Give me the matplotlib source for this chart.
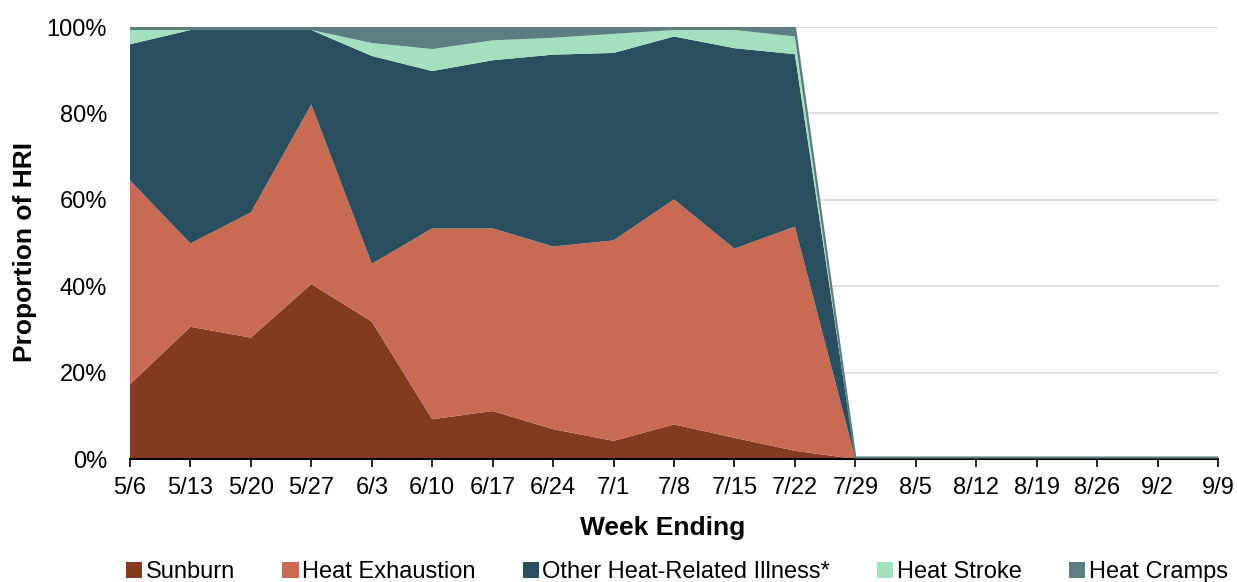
import matplotlib.pyplot as plt
import numpy as np

plt.rcParams['font.family'] = ['Liberation Sans', 'DejaVu Sans']

weeks = ['5/6', '5/13', '5/20', '5/27', '6/3', '6/10', '6/17', '6/24', '7/1', '7/8',
         '7/15', '7/22', '7/29', '8/5', '8/12', '8/19', '8/26', '9/2', '9/9']

# proportions (%), zero after 7/22
sunburn = [17.3, 30.6, 28.1, 40.5, 31.8, 9.2, 11.1, 6.9, 4.2, 8.0, 4.9, 1.9,
           0, 0, 0, 0, 0, 0, 0]
heat_exhaustion = [47.2, 19.3, 29.0, 41.6, 13.4, 44.2, 42.3, 42.3, 46.4, 52.1, 43.8, 51.9,
                   0, 0, 0, 0, 0, 0, 0]
other_hri = [31.5, 49.4, 42.2, 17.2, 48.1, 36.4, 38.9, 44.4, 43.4, 37.7, 46.4, 39.9,
             0, 0, 0, 0, 0, 0, 0]
heat_stroke = [3.3, 0, 0, 0, 3.0, 5.1, 4.6, 3.9, 4.4, 1.5, 4.2, 4.1,
               0, 0, 0, 0, 0, 0, 0]
heat_cramps = [0.7, 0.7, 0.7, 0.7, 3.7, 5.1, 3.1, 2.5, 1.6, 0.7, 0.7, 2.2,
               0, 0, 0, 0, 0, 0, 0]

labels = ['Sunburn', 'Heat Exhaustion', 'Other Heat-Related Illness*', 'Heat Stroke', 'Heat Cramps']
colors = ['#823A20', '#C96A52', '#294E5F', '#A3E1BE', '#5C7E82']

fig = plt.figure(figsize=(12.37, 5.82), dpi=100)
ax = fig.add_axes([130 / 1237, 1 - 459 / 582, 1088 / 1237, 432 / 582])

x = np.arange(len(weeks))
series = [sunburn, heat_exhaustion, other_hri, heat_stroke, heat_cramps]
ax.stackplot(x, *series, colors=colors, labels=labels, linewidth=0, zorder=2)
total = np.sum(series, axis=0)
# outline of the stack; lifted a little where empty so it shows above the axis line
ax.plot(x, np.where(total == 0, 0.35, total), color=colors[4], lw=1.5, zorder=5)

ax.set_xlim(0, len(weeks) - 1)
ax.set_ylim(0, 100)
ax.set_yticks(np.arange(0, 101, 20))
ax.set_yticklabels(['%d%%' % v for v in range(0, 101, 20)], fontsize=17)
ax.set_xticks(x)
ax.set_xticklabels(weeks, fontsize=17)
ax.yaxis.grid(True, color='#D9D9D9', lw=1.2, zorder=0)
ax.set_axisbelow(True)

for s in ['top', 'right', 'left']:
    ax.spines[s].set_visible(False)
ax.spines['bottom'].set_color('black')
ax.spines['bottom'].set_linewidth(1.5)
ax.spines['bottom'].set_zorder(4)
ax.tick_params(axis='y', length=0, pad=16.5)
ax.tick_params(axis='x', length=5.8, width=1.2, direction='out', pad=7)

ax.set_xlabel('Week Ending', fontsize=19, fontweight='bold')
ax.xaxis.set_label_coords((663 - 130) / 1088, (459 - 516) / 432)
ax.set_ylabel('Proportion of HRI', fontsize=19, fontweight='bold')
ax.yaxis.set_label_coords((37 - 130) / 1088, 0.48)

handles, lbls = ax.get_legend_handles_labels()
fig.legend(handles, lbls, loc='center', bbox_to_anchor=(677 / 1237, 0.017), ncol=5,
           frameon=False, fontsize=17, handlelength=0.68, handleheight=0.68,
           handletextpad=0.15, columnspacing=2.0, borderpad=0)

fig.savefig('out.png', dpi=100)
